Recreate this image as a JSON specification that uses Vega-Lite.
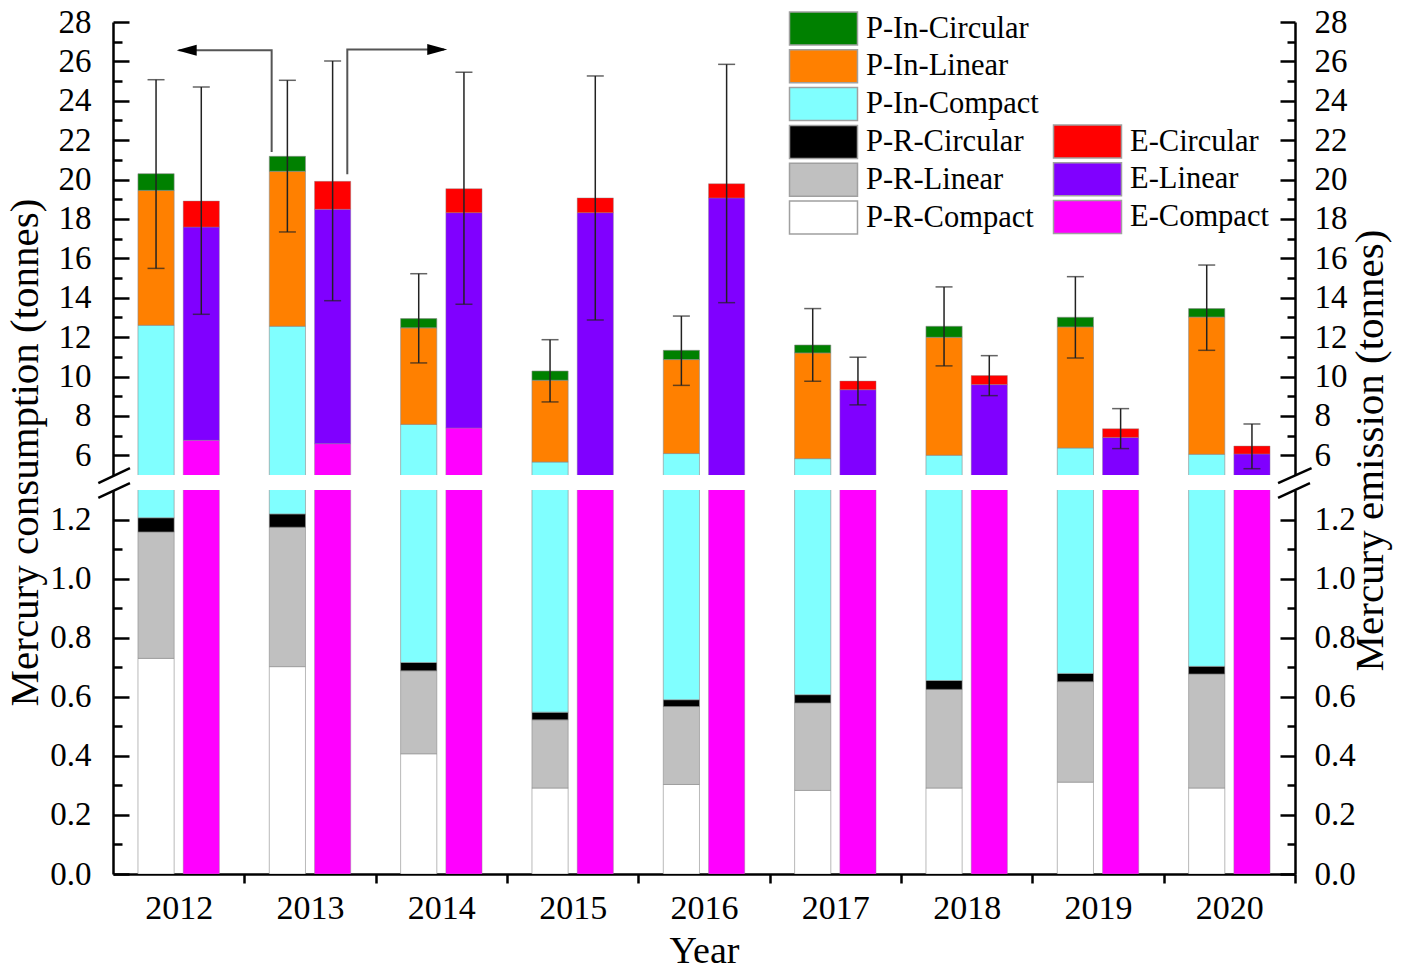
{
  "$schema": "https://vega.github.io/schema/vega-lite/v6.json",
  "background": "white",
  "padding": {"left": 3, "top": 6, "right": 5, "bottom": 5},
  "bounds": "flush",
  "spacing": 15,
  "config": {
    "font": "Liberation Serif",
    "view": {"stroke": null},
    "axis": {
      "labelFont": "Liberation Serif",
      "titleFont": "Liberation Serif",
      "labelColor": "black",
      "titleColor": "black",
      "titleFontWeight": "normal",
      "domainColor": "black",
      "tickColor": "black",
      "grid": false
    }
  },
  "datasets": {
    "bars": [
      {"year": "2012", "grp": "P", "series": "P-R-Compact", "ord": 1, "value": 0.73},
      {"year": "2012", "grp": "P", "series": "P-R-Linear", "ord": 2, "value": 0.428},
      {"year": "2012", "grp": "P", "series": "P-R-Circular", "ord": 3, "value": 0.048},
      {"year": "2012", "grp": "P", "series": "P-In-Compact", "ord": 4, "value": 11.394},
      {"year": "2012", "grp": "P", "series": "P-In-Linear", "ord": 5, "value": 6.85},
      {"year": "2012", "grp": "P", "series": "P-In-Circular", "ord": 6, "value": 0.85},
      {"year": "2012", "grp": "E", "series": "E-Compact", "ord": 1, "value": 6.76},
      {"year": "2012", "grp": "E", "series": "E-Linear", "ord": 2, "value": 10.83},
      {"year": "2012", "grp": "E", "series": "E-Circular", "ord": 3, "value": 1.32},
      {"year": "2013", "grp": "P", "series": "P-R-Compact", "ord": 1, "value": 0.702},
      {"year": "2013", "grp": "P", "series": "P-R-Linear", "ord": 2, "value": 0.472},
      {"year": "2013", "grp": "P", "series": "P-R-Circular", "ord": 3, "value": 0.045},
      {"year": "2013", "grp": "P", "series": "P-In-Compact", "ord": 4, "value": 11.331},
      {"year": "2013", "grp": "P", "series": "P-In-Linear", "ord": 5, "value": 7.87},
      {"year": "2013", "grp": "P", "series": "P-In-Circular", "ord": 6, "value": 0.76},
      {"year": "2013", "grp": "E", "series": "E-Compact", "ord": 1, "value": 6.59},
      {"year": "2013", "grp": "E", "series": "E-Linear", "ord": 2, "value": 11.9},
      {"year": "2013", "grp": "E", "series": "E-Circular", "ord": 3, "value": 1.42},
      {"year": "2014", "grp": "P", "series": "P-R-Compact", "ord": 1, "value": 0.407},
      {"year": "2014", "grp": "P", "series": "P-R-Linear", "ord": 2, "value": 0.281},
      {"year": "2014", "grp": "P", "series": "P-R-Circular", "ord": 3, "value": 0.028},
      {"year": "2014", "grp": "P", "series": "P-In-Compact", "ord": 4, "value": 6.854},
      {"year": "2014", "grp": "P", "series": "P-In-Linear", "ord": 5, "value": 4.9},
      {"year": "2014", "grp": "P", "series": "P-In-Circular", "ord": 6, "value": 0.47},
      {"year": "2014", "grp": "E", "series": "E-Compact", "ord": 1, "value": 7.39},
      {"year": "2014", "grp": "E", "series": "E-Linear", "ord": 2, "value": 10.93},
      {"year": "2014", "grp": "E", "series": "E-Circular", "ord": 3, "value": 1.22},
      {"year": "2015", "grp": "P", "series": "P-R-Compact", "ord": 1, "value": 0.291},
      {"year": "2015", "grp": "P", "series": "P-R-Linear", "ord": 2, "value": 0.231},
      {"year": "2015", "grp": "P", "series": "P-R-Circular", "ord": 3, "value": 0.026},
      {"year": "2015", "grp": "P", "series": "P-In-Compact", "ord": 4, "value": 5.112},
      {"year": "2015", "grp": "P", "series": "P-In-Linear", "ord": 5, "value": 4.15},
      {"year": "2015", "grp": "P", "series": "P-In-Circular", "ord": 6, "value": 0.47},
      {"year": "2015", "grp": "E", "series": "E-Compact", "ord": 1, "value": 4.0},
      {"year": "2015", "grp": "E", "series": "E-Linear", "ord": 2, "value": 14.32},
      {"year": "2015", "grp": "E", "series": "E-Circular", "ord": 3, "value": 0.75},
      {"year": "2016", "grp": "P", "series": "P-R-Compact", "ord": 1, "value": 0.303},
      {"year": "2016", "grp": "P", "series": "P-R-Linear", "ord": 2, "value": 0.264},
      {"year": "2016", "grp": "P", "series": "P-R-Circular", "ord": 3, "value": 0.023},
      {"year": "2016", "grp": "P", "series": "P-In-Compact", "ord": 4, "value": 5.5},
      {"year": "2016", "grp": "P", "series": "P-In-Linear", "ord": 5, "value": 4.77},
      {"year": "2016", "grp": "P", "series": "P-In-Circular", "ord": 6, "value": 0.47},
      {"year": "2016", "grp": "E", "series": "E-Compact", "ord": 1, "value": 4.0},
      {"year": "2016", "grp": "E", "series": "E-Linear", "ord": 2, "value": 15.07},
      {"year": "2016", "grp": "E", "series": "E-Circular", "ord": 3, "value": 0.72},
      {"year": "2017", "grp": "P", "series": "P-R-Compact", "ord": 1, "value": 0.283},
      {"year": "2017", "grp": "P", "series": "P-R-Linear", "ord": 2, "value": 0.296},
      {"year": "2017", "grp": "P", "series": "P-R-Circular", "ord": 3, "value": 0.028},
      {"year": "2017", "grp": "P", "series": "P-In-Compact", "ord": 4, "value": 5.223},
      {"year": "2017", "grp": "P", "series": "P-In-Linear", "ord": 5, "value": 5.37},
      {"year": "2017", "grp": "P", "series": "P-In-Circular", "ord": 6, "value": 0.4},
      {"year": "2017", "grp": "E", "series": "E-Compact", "ord": 1, "value": 4.0},
      {"year": "2017", "grp": "E", "series": "E-Linear", "ord": 2, "value": 5.33},
      {"year": "2017", "grp": "E", "series": "E-Circular", "ord": 3, "value": 0.44},
      {"year": "2018", "grp": "P", "series": "P-R-Compact", "ord": 1, "value": 0.291},
      {"year": "2018", "grp": "P", "series": "P-R-Linear", "ord": 2, "value": 0.334},
      {"year": "2018", "grp": "P", "series": "P-R-Circular", "ord": 3, "value": 0.03},
      {"year": "2018", "grp": "P", "series": "P-In-Compact", "ord": 4, "value": 5.345},
      {"year": "2018", "grp": "P", "series": "P-In-Linear", "ord": 5, "value": 5.99},
      {"year": "2018", "grp": "P", "series": "P-In-Circular", "ord": 6, "value": 0.56},
      {"year": "2018", "grp": "E", "series": "E-Compact", "ord": 1, "value": 4.0},
      {"year": "2018", "grp": "E", "series": "E-Linear", "ord": 2, "value": 5.59},
      {"year": "2018", "grp": "E", "series": "E-Circular", "ord": 3, "value": 0.46},
      {"year": "2019", "grp": "P", "series": "P-R-Compact", "ord": 1, "value": 0.311},
      {"year": "2019", "grp": "P", "series": "P-R-Linear", "ord": 2, "value": 0.34},
      {"year": "2019", "grp": "P", "series": "P-R-Circular", "ord": 3, "value": 0.028},
      {"year": "2019", "grp": "P", "series": "P-In-Compact", "ord": 4, "value": 5.691},
      {"year": "2019", "grp": "P", "series": "P-In-Linear", "ord": 5, "value": 6.15},
      {"year": "2019", "grp": "P", "series": "P-In-Circular", "ord": 6, "value": 0.49},
      {"year": "2019", "grp": "E", "series": "E-Compact", "ord": 1, "value": 4.0},
      {"year": "2019", "grp": "E", "series": "E-Linear", "ord": 2, "value": 2.91},
      {"year": "2019", "grp": "E", "series": "E-Circular", "ord": 3, "value": 0.44},
      {"year": "2020", "grp": "P", "series": "P-R-Compact", "ord": 1, "value": 0.291},
      {"year": "2020", "grp": "P", "series": "P-R-Linear", "ord": 2, "value": 0.386},
      {"year": "2020", "grp": "P", "series": "P-R-Circular", "ord": 3, "value": 0.026},
      {"year": "2020", "grp": "P", "series": "P-In-Compact", "ord": 4, "value": 5.347},
      {"year": "2020", "grp": "P", "series": "P-In-Linear", "ord": 5, "value": 6.97},
      {"year": "2020", "grp": "P", "series": "P-In-Circular", "ord": 6, "value": 0.43},
      {"year": "2020", "grp": "E", "series": "E-Compact", "ord": 1, "value": 4.0},
      {"year": "2020", "grp": "E", "series": "E-Linear", "ord": 2, "value": 2.07},
      {"year": "2020", "grp": "E", "series": "E-Circular", "ord": 3, "value": 0.4}
    ],
    "errs": [
      {"year": "2012", "grp": "P", "lo": 15.49, "hi": 25.07},
      {"year": "2012", "grp": "E", "lo": 13.16, "hi": 24.7},
      {"year": "2013", "grp": "P", "lo": 17.34, "hi": 25.04},
      {"year": "2013", "grp": "E", "lo": 13.85, "hi": 26.02},
      {"year": "2014", "grp": "P", "lo": 10.69, "hi": 15.22},
      {"year": "2014", "grp": "E", "lo": 13.67, "hi": 25.45},
      {"year": "2015", "grp": "P", "lo": 8.71, "hi": 11.87},
      {"year": "2015", "grp": "E", "lo": 12.87, "hi": 25.26},
      {"year": "2016", "grp": "P", "lo": 9.55, "hi": 13.07},
      {"year": "2016", "grp": "E", "lo": 13.75, "hi": 25.85},
      {"year": "2017", "grp": "P", "lo": 9.76, "hi": 13.45},
      {"year": "2017", "grp": "E", "lo": 8.56, "hi": 10.98},
      {"year": "2018", "grp": "P", "lo": 10.54, "hi": 14.55},
      {"year": "2018", "grp": "E", "lo": 9.03, "hi": 11.06},
      {"year": "2019", "grp": "P", "lo": 10.94, "hi": 15.07},
      {"year": "2019", "grp": "E", "lo": 6.34, "hi": 8.37},
      {"year": "2020", "grp": "P", "lo": 11.33, "hi": 15.66},
      {"year": "2020", "grp": "E", "lo": 5.32, "hi": 7.59}
    ],
    "arrows": [
      {"id": "L", "ord": 1, "x": 2012.708, "y": 21.4},
      {"id": "L", "ord": 2, "x": 2012.708, "y": 26.56},
      {"id": "L", "ord": 3, "x": 2012.0, "y": 26.56},
      {"id": "R", "ord": 1, "x": 2013.284, "y": 20.27},
      {"id": "R", "ord": 2, "x": 2013.284, "y": 26.6},
      {"id": "R", "ord": 3, "x": 2014.02, "y": 26.6}
    ],
    "heads": [
      {"id": "L", "x": 2012.061, "y": 26.56},
      {"id": "R", "x": 2013.969, "y": 26.6}
    ],
    "breaks": [
      {"x1": 2011.388, "y1": 1.273, "x2": 2011.629, "y2": 1.3236},
      {"x1": 2011.388, "y1": 1.3236, "x2": 2011.629, "y2": 1.374},
      {"x1": 2020.371, "y1": 1.273, "x2": 2020.614, "y2": 1.3236},
      {"x1": 2020.371, "y1": 1.3236, "x2": 2020.626, "y2": 1.374}
    ]
  },
  "resolve": {"scale": {"color": "independent", "fill": "independent"}},
  "vconcat": [
    {
      "width": 1182,
      "height": 453,
      "layer": [
        {
          "layer": [
            {
              "data": {"name": "bars"},
              "transform": [{"filter": "datum.grp === 'P'"}],
              "mark": {"type": "bar", "clip": true, "stroke": "#8a8a8a", "strokeWidth": 1, "strokeOpacity": 0.6},
              "encoding": {
                "x": {"field": "year", "type": "nominal", "scale": {"paddingInner": 0.38, "paddingOuter": 0.19}, "axis": null},
                "xOffset": {"field": "grp", "scale": {"domain": ["P", "E"], "paddingInner": 0.2}},
                "y": {
                  "field": "value", "type": "quantitative", "stack": "zero",
                  "scale": {"domain": [5, 28], "nice": false, "zero": false},
                  "axis": {"orient": "left", "values": [6, 8, 10, 12, 14, 16, 18, 20, 22, 24, 26, 28], "tickSize": -16, "tickWidth": 2.5, "domainWidth": 2.5, "labelFontSize": 33, "labelPadding": 38, "title": null}
                },
                "color": {
                  "field": "series", "type": "nominal",
                  "scale": {"domain": ["P-In-Circular", "P-In-Linear", "P-In-Compact", "P-R-Circular", "P-R-Linear", "P-R-Compact"], "range": ["#008000", "#ff8000", "#80ffff", "#000000", "#c0c0c0", "#ffffff"]},
                  "legend": {"orient": "none", "legendX": 693, "legendY": -11, "title": null, "symbolType": "M-2.06,-1H2.06V1H-2.06Z", "symbolSize": 1089, "symbolStrokeColor": "#a0a0a0", "symbolStrokeWidth": 1.5, "symbolOpacity": 1, "labelFontSize": 30.5, "labelFont": "Liberation Serif", "labelColor": "black", "labelOffset": 25, "rowPadding": -1.2, "labelLimit": 400}
                },
                "order": {"field": "ord", "type": "quantitative"}
              }
            },
            {
              "data": {"name": "bars"},
              "transform": [{"filter": "datum.grp === 'E'"}],
              "mark": {"type": "bar", "clip": true, "stroke": "#8a8a8a", "strokeWidth": 1, "strokeOpacity": 0.4},
              "encoding": {
                "x": {"field": "year", "type": "nominal"},
                "xOffset": {"field": "grp"},
                "y": {"field": "value", "type": "quantitative", "stack": "zero", "scale": {"domain": [5, 28], "nice": false, "zero": false}},
                "fill": {
                  "field": "series", "type": "nominal",
                  "scale": {"domain": ["E-Circular", "E-Linear", "E-Compact"], "range": ["#ff0000", "#8000ff", "#ff00ff"]},
                  "legend": {"orient": "none", "legendX": 957, "legendY": 102, "title": null, "symbolType": "M-2.06,-1H2.06V1H-2.06Z", "symbolSize": 1089, "symbolStrokeColor": "#a0a0a0", "symbolStrokeWidth": 1.5, "symbolOpacity": 1, "labelFontSize": 30.5, "labelFont": "Liberation Serif", "labelColor": "black", "labelOffset": 25, "rowPadding": -1.2, "labelLimit": 400}
                },
                "order": {"field": "ord", "type": "quantitative"}
              }
            },
            {
              "data": {"name": "errs"},
              "mark": {"type": "rule", "color": "#222222", "strokeWidth": 1.5},
              "encoding": {
                "x": {"field": "year", "type": "nominal"},
                "xOffset": {"field": "grp"},
                "y": {"field": "lo", "type": "quantitative", "scale": {"domain": [5, 28], "nice": false, "zero": false}},
                "y2": {"field": "hi"}
              }
            },
            {
              "data": {"name": "errs"},
              "mark": {"type": "tick", "color": "#222222", "thickness": 1.5, "size": 17},
              "encoding": {
                "x": {"field": "year", "type": "nominal"},
                "xOffset": {"field": "grp"},
                "y": {"field": "lo", "type": "quantitative", "scale": {"domain": [5, 28], "nice": false, "zero": false}}
              }
            },
            {
              "data": {"name": "errs"},
              "mark": {"type": "tick", "color": "#222222", "thickness": 1.5, "size": 17},
              "encoding": {
                "x": {"field": "year", "type": "nominal"},
                "xOffset": {"field": "grp"},
                "y": {"field": "hi", "type": "quantitative", "scale": {"domain": [5, 28], "nice": false, "zero": false}}
              }
            }
          ]
        },
        {
          "data": {"values": [{}]},
          "mark": {"type": "rule", "opacity": 0},
          "encoding": {
            "y": {"datum": 6, "type": "quantitative", "scale": {"domain": [5, 28], "nice": false, "zero": false},
              "axis": {"orient": "left", "values": [7, 9, 11, 13, 15, 17, 19, 21, 23, 25, 27], "labels": false, "domain": false, "tickSize": -9, "tickWidth": 2.5, "title": null}}
          }
        },
        {
          "data": {"values": [{}]},
          "mark": {"type": "rule", "opacity": 0},
          "encoding": {
            "y": {"datum": 6, "type": "quantitative", "scale": {"domain": [5, 28], "nice": false, "zero": false},
              "axis": {"orient": "right", "values": [6, 8, 10, 12, 14, 16, 18, 20, 22, 24, 26, 28], "tickSize": -15, "tickWidth": 2.5, "domainWidth": 2.5, "labelFontSize": 33, "labelPadding": 34, "title": null}}
          }
        },
        {
          "data": {"values": [{}]},
          "mark": {"type": "rule", "opacity": 0},
          "encoding": {
            "y": {"datum": 6, "type": "quantitative", "scale": {"domain": [5, 28], "nice": false, "zero": false},
              "axis": {"orient": "right", "values": [7, 9, 11, 13, 15, 17, 19, 21, 23, 25, 27], "labels": false, "domain": false, "tickSize": -8, "tickWidth": 2.5, "title": null}}
          }
        },
        {
          "layer": [
            {
              "data": {"name": "arrows"},
              "mark": {"type": "line", "color": "#555555", "strokeWidth": 2},
              "encoding": {
                "x": {"field": "x", "type": "quantitative", "scale": {"domain": [2011.5, 2020.5], "nice": false, "zero": false}, "axis": null},
                "y": {"field": "y", "type": "quantitative", "scale": {"domain": [5, 28], "nice": false, "zero": false}, "axis": null},
                "detail": {"field": "id"},
                "order": {"field": "ord", "type": "quantitative"}
              }
            },
            {
              "data": {"name": "heads"},
              "mark": {"type": "point", "filled": true, "color": "black", "opacity": 1, "size": 400},
              "encoding": {
                "x": {"field": "x", "type": "quantitative"},
                "y": {"field": "y", "type": "quantitative"},
                "shape": {"field": "id", "type": "nominal", "scale": {"domain": ["L", "R"], "range": ["M-1,0L1,-0.55L1,0.55Z", "M1,0L-1,-0.55L-1,0.55Z"]}, "legend": null}
              }
            }
          ]
        }
      ],
      "resolve": {"scale": {"y": "independent", "x": "independent"}}
    },
    {
      "width": 1182,
      "height": 384,
      "layer": [
        {
          "layer": [
            {
              "data": {"name": "bars"},
              "transform": [{"filter": "datum.grp === 'P'"}],
              "mark": {"type": "bar", "clip": true, "stroke": "#8a8a8a", "strokeWidth": 1, "strokeOpacity": 0.6},
              "encoding": {
                "x": {
                  "field": "year", "type": "nominal", "scale": {"paddingInner": 0.38, "paddingOuter": 0.19},
                  "axis": {"orient": "bottom", "tickOffset": 65.67, "labelOffset": -65.67, "tickSize": 9, "tickWidth": 2.5, "domainWidth": 2.5, "labelFontSize": 34, "labelAngle": 0, "labelPadding": 8, "title": "Year", "titleFontSize": 38, "titlePadding": 7}
                },
                "xOffset": {"field": "grp", "scale": {"domain": ["P", "E"], "paddingInner": 0.2}},
                "y": {
                  "field": "value", "type": "quantitative", "stack": "zero",
                  "scale": {"domain": [0, 1.3], "nice": false},
                  "axis": {"orient": "left", "values": [0, 0.2, 0.4, 0.6, 0.8, 1.0, 1.2], "format": ".1f", "tickSize": -16, "tickWidth": 2.5, "domainWidth": 2.5, "labelFontSize": 33, "labelPadding": 38,
                    "title": "Mercury consumption (tonnes)", "titleFontSize": 41, "titleAngle": -90, "titleX": -76, "titleY": -38, "titleAlign": "center", "titleBaseline": "alphabetic"}
                },
                "color": {
                  "field": "series", "type": "nominal",
                  "scale": {"domain": ["P-In-Circular", "P-In-Linear", "P-In-Compact", "P-R-Circular", "P-R-Linear", "P-R-Compact"], "range": ["#008000", "#ff8000", "#80ffff", "#000000", "#c0c0c0", "#ffffff"]},
                  "legend": null
                },
                "order": {"field": "ord", "type": "quantitative"}
              }
            },
            {
              "data": {"name": "bars"},
              "transform": [{"filter": "datum.grp === 'E'"}],
              "mark": {"type": "bar", "clip": true, "stroke": "#8a8a8a", "strokeWidth": 1, "strokeOpacity": 0.4},
              "encoding": {
                "x": {"field": "year", "type": "nominal"},
                "xOffset": {"field": "grp"},
                "y": {"field": "value", "type": "quantitative", "stack": "zero", "scale": {"domain": [0, 1.3], "nice": false}},
                "fill": {
                  "field": "series", "type": "nominal",
                  "scale": {"domain": ["E-Circular", "E-Linear", "E-Compact"], "range": ["#ff0000", "#8000ff", "#ff00ff"]},
                  "legend": null
                },
                "order": {"field": "ord", "type": "quantitative"}
              }
            }
          ]
        },
        {
          "data": {"values": [{}]},
          "mark": {"type": "rule", "opacity": 0},
          "encoding": {
            "y": {"datum": 0, "type": "quantitative", "scale": {"domain": [0, 1.3], "nice": false},
              "axis": {"orient": "left", "values": [0.1, 0.3, 0.5, 0.7, 0.9, 1.1], "labels": false, "domain": false, "tickSize": -9, "tickWidth": 2.5, "title": null}}
          }
        },
        {
          "data": {"values": [{}]},
          "mark": {"type": "rule", "opacity": 0},
          "encoding": {
            "y": {"datum": 0, "type": "quantitative", "scale": {"domain": [0, 1.3], "nice": false},
              "axis": {"orient": "right", "values": [0, 0.2, 0.4, 0.6, 0.8, 1.0, 1.2], "format": ".1f", "tickSize": -15, "tickWidth": 2.5, "domainWidth": 2.5, "labelFontSize": 33, "labelPadding": 34,
                "title": "Mercury emission (tonnes)", "titleFontSize": 41, "titleAngle": -90, "titleX": 87, "titleY": -40, "titleAlign": "center", "titleBaseline": "alphabetic"}}
          }
        },
        {
          "data": {"values": [{}]},
          "mark": {"type": "rule", "opacity": 0},
          "encoding": {
            "y": {"datum": 0, "type": "quantitative", "scale": {"domain": [0, 1.3], "nice": false},
              "axis": {"orient": "right", "values": [0.1, 0.3, 0.5, 0.7, 0.9, 1.1], "labels": false, "domain": false, "tickSize": -8, "tickWidth": 2.5, "title": null}}
          }
        },
        {
          "data": {"name": "breaks"},
          "mark": {"type": "rule", "color": "black", "strokeWidth": 2.5},
          "encoding": {
            "x": {"field": "x1", "type": "quantitative", "scale": {"domain": [2011.5, 2020.5], "nice": false, "zero": false}, "axis": null},
            "x2": {"field": "x2"},
            "y": {"field": "y1", "type": "quantitative", "scale": {"domain": [0, 1.3], "nice": false}, "axis": null},
            "y2": {"field": "y2"}
          }
        }
      ],
      "resolve": {"scale": {"y": "independent", "x": "independent"}}
    }
  ]
}
